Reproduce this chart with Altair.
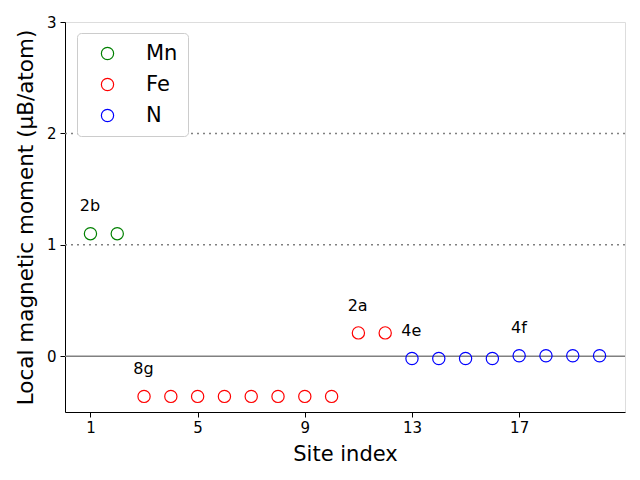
import altair as alt
import pandas as pd

# Data
mn_sites = [1, 2]
mn_vals = [1.10, 1.10]
fe_sites = [3, 4, 5, 6, 7, 8, 9, 10, 11, 12]
fe_vals = [-0.36, -0.36, -0.36, -0.36, -0.36, -0.36, -0.36, -0.36, 0.21, 0.21]
n_sites = [13, 14, 15, 16, 17, 18, 19, 20]
n_vals = [-0.02, -0.02, -0.02, -0.02, 0.005, 0.005, 0.005, 0.005]

label_text = ["2b", "8g", "2a", "4e", "4f"]
label_x = [0.6, 2.6, 10.6, 12.6, 16.7]
label_y = [1.30, -0.16, 0.41, 0.18, 0.21]

dotted_levels = [1, 2]
zero_level = [0]

rows = []
for s, v in zip(mn_sites, mn_vals):
    rows.append({"site": s, "moment": v, "element": "Mn"})
for s, v in zip(fe_sites, fe_vals):
    rows.append({"site": s, "moment": v, "element": "Fe"})
for s, v in zip(n_sites, n_vals):
    rows.append({"site": s, "moment": v, "element": "N"})
df = pd.DataFrame(rows)
labels_df = pd.DataFrame({"text": label_text, "x": label_x, "y": label_y})
dotted_df = pd.DataFrame({"y": dotted_levels})
zero_df = pd.DataFrame({"y": zero_level})

FONT = "DejaVu Sans"
xscale = alt.Scale(domain=[0.05, 20.95], nice=False, zero=False)
yscale = alt.Scale(domain=[-0.5, 3], nice=False, zero=False)

points = alt.Chart(df).mark_point(filled=False, size=150, strokeWidth=1.2, opacity=1).encode(
    x=alt.X("site:Q", scale=xscale,
            axis=alt.Axis(values=[1, 5, 9, 13, 17], title="Site index", grid=False, format="d",
                          labelFontSize=15, titleFontSize=21, tickSize=5,
                          domainColor="black", tickColor="black", labelColor="black",
                          titleFontWeight="normal", titlePadding=8, labelPadding=3)),
    y=alt.Y("moment:Q", scale=yscale,
            axis=alt.Axis(values=[0, 1, 2, 3], title="Local magnetic moment (μB/atom)", grid=False,
                          format="d",
                          labelFontSize=15, titleFontSize=21.5, tickSize=5,
                          domainColor="black", tickColor="black", labelColor="black",
                          titleFontWeight="normal", titlePadding=9, labelPadding=4)),
    color=alt.Color("element:N",
                    scale=alt.Scale(domain=["Mn", "Fe", "N"], range=["green", "red", "blue"]),
                    legend=alt.Legend(title=None, orient="none", legendX=12, legendY=11,
                                      labelFontSize=21, symbolSize=150, symbolStrokeWidth=1.2,
                                      symbolType="circle", symbolFillColor="transparent",
                                      strokeColor="#cccccc", fillColor="white", cornerRadius=4,
                                      padding=10, rowPadding=9, symbolOffset=10, labelOffset=28,
                                      labelFont=FONT, labelColor="black")),
)

dotted = alt.Chart(dotted_df).mark_rule(color="gray", strokeDash=[2, 4], strokeWidth=1.5).encode(
    y=alt.Y("y:Q", scale=yscale)
)
zero = alt.Chart(zero_df).mark_rule(color="gray", strokeWidth=1.5).encode(
    y=alt.Y("y:Q", scale=yscale)
)
texts = alt.Chart(labels_df).mark_text(align="left", baseline="alphabetic", fontSize=16,
                                       font=FONT, color="black").encode(
    x=alt.X("x:Q", scale=xscale),
    y=alt.Y("y:Q", scale=yscale),
    text="text:N",
)

chart = alt.layer(dotted, zero, points, texts).properties(
    width=560, height=390,
    autosize=alt.AutoSizeParams(type="none"),
    padding={"left": 65, "top": 22, "right": 15, "bottom": 68},
).configure_view(stroke="black", strokeWidth=1).configure(
    font=FONT, background="white"
)

chart.save("out.html", embed_options={"renderer": "svg", "actions": False})
